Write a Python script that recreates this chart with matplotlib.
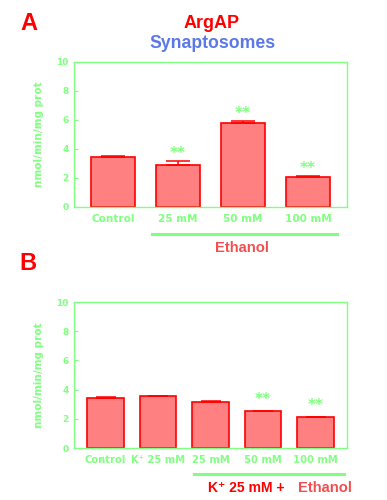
import matplotlib
matplotlib.use('Agg')
import matplotlib.pyplot as plt

plt.rcParams['font.family'] = ['Liberation Sans', 'DejaVu Sans']
plt.rcParams['font.weight'] = 'bold'

# panel A data
cats_a = ['Control', '25 mM', '50 mM', '100 mM']
vals_a = [3.45, 2.92, 5.78, 2.08]
err_a = [0.05, 0.25, 0.14, 0.04]
sig_a = ['', '**', '**', '**']

# panel B data
cats_b = ['Control', 'K⁺ 25 mM', '25 mM', '50 mM', '100 mM']
vals_b = [3.44, 3.54, 3.15, 2.53, 2.10]
err_b = [0.06, 0.04, 0.04, 0.02, 0.04]
sig_b = ['', '', '', '**', '**']

GREEN = '#80ff80'
RED = '#ff0000'
FILL = '#ff8080'
ETH = '#f05050'
SMALL = ['DejaVu Sans']


def draw_panel(ax, cats, vals, errs, sigs, width, cap, star_off, xsize):
    x = range(len(cats))
    ax.bar(x, vals, width=width, color=FILL, edgecolor=RED, linewidth=1.2,
           yerr=[[0] * len(errs), errs],
           error_kw=dict(ecolor=RED, elinewidth=1.1, capsize=cap, capthick=1.1))
    for xi, v, e, s in zip(x, vals, errs, sigs):
        if s:
            ax.text(xi, v + e + star_off, s, ha='center', va='center', color=GREEN,
                    fontsize=11, fontweight='bold', family=SMALL)
    ax.set_xlim(-0.6, len(cats) - 0.4)
    ax.set_ylim(0, 10)
    ax.set_yticks([0, 2, 4, 6, 8, 10])
    ax.set_xticks(list(x))
    ax.set_xticklabels(cats, family=SMALL)
    ax.set_yticklabels([str(t) for t in [0, 2, 4, 6, 8, 10]], family=SMALL)
    for sp in ax.spines.values():
        sp.set_color(GREEN)
        sp.set_linewidth(1.0)
    ax.tick_params(axis='y', direction='in', length=3, color=GREEN, labelcolor=GREEN,
                   labelsize=6.5, pad=4)
    ax.tick_params(axis='x', length=0, labelcolor=GREEN, labelsize=xsize, pad=5)
    ax.set_ylabel('nmol/min/mg prot', color=GREEN, fontsize=7.6, fontweight='bold',
                  labelpad=9, family=SMALL)


fig = plt.figure(figsize=(3.87, 5.0), dpi=100)

# panel A
ax1 = fig.add_axes([74 / 387, 1 - 207 / 500, 273 / 387, 145 / 500])
draw_panel(ax1, cats_a, vals_a, err_a, sig_a, 0.68, 8.6, 0.55, 7.6)
ax1.plot([0.6, 3.45], [-0.186, -0.186], color=GREEN, lw=2.2, clip_on=False,
         transform=ax1.get_xaxis_transform())
ax1.text(1.98, -0.283, 'Ethanol', color=ETH, fontsize=10.6, fontweight='bold',
         ha='center', va='center', transform=ax1.get_xaxis_transform())

# panel B
ax2 = fig.add_axes([74 / 387, 1 - 448 / 500, 273 / 387, 146 / 500])
draw_panel(ax2, cats_b, vals_b, err_b, sig_b, 0.69, 7, 0.75, 7.2)
ax2.plot([1.69, 4.54], [-0.178, -0.178], color=GREEN, lw=2.2, clip_on=False,
         transform=ax2.get_xaxis_transform())
ax2.text(1.96, -0.274, 'K⁺ 25 mM +', color=RED, fontsize=10.1, fontweight='bold',
         ha='left', va='center', transform=ax2.get_xaxis_transform())
ax2.text(3.67, -0.274, 'Ethanol', color=ETH, fontsize=10.6, fontweight='bold',
         ha='left', va='center', transform=ax2.get_xaxis_transform())

# titles and panel letters
fig.text(212 / 387, 1 - 23 / 500, 'ArgAP', color=RED, fontsize=13, fontweight='bold',
         ha='center', va='center')
fig.text(212 / 387, 1 - 44 / 500, 'Synaptosomes', color='#5b78e6', fontsize=12.7,
         fontweight='bold', ha='center', va='center')
fig.text(29 / 387, 1 - 23 / 500, 'A', color=RED, fontsize=17, fontweight='bold',
         ha='center', va='center')
fig.text(28 / 387, 1 - 263 / 500, 'B', color=RED, fontsize=17, fontweight='bold',
         ha='center', va='center')

fig.savefig('out.png', dpi=100)
